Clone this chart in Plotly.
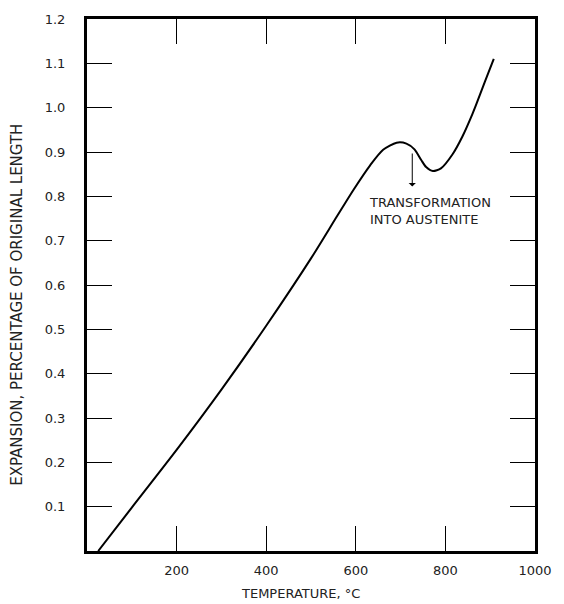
import plotly.graph_objects as go

# Data
temperature = [25, 100, 200, 300, 400, 500, 558, 595, 632, 661, 691, 713, 731, 746, 757, 772, 790, 816, 838, 860, 868, 888, 908]
expansion = [0.0, 0.098, 0.228, 0.364, 0.508, 0.660, 0.755, 0.815, 0.870, 0.905, 0.921, 0.919, 0.906, 0.882, 0.866, 0.857, 0.863, 0.895, 0.935, 0.985, 1.005, 1.058, 1.110]

x_ticks = [200, 400, 600, 800, 1000]
y_ticks = [0.1, 0.2, 0.3, 0.4, 0.5, 0.6, 0.7, 0.8, 0.9, 1.0, 1.1, 1.2]
y_ticktext = ["0.1", "0.2", "0.3", "0.4", "0.5", "0.6", "0.7", "0.8", "0.9", "1.0", "1.1", "1.2"]

FONT = "DejaVu Sans"

fig = go.Figure()
fig.add_trace(go.Scatter(x=temperature, y=expansion, mode="lines",
                         line=dict(color="black", width=2, shape="spline", smoothing=0.7),
                         hoverinfo="skip", showlegend=False))

# Arrow to the transformation dip
fig.add_annotation(x=726, y=0.822, ax=726, ay=0.90, xref="x", yref="y", axref="x", ayref="y",
                   text="", showarrow=True, arrowhead=1, arrowsize=1.2, arrowwidth=1, arrowcolor="black")
fig.add_annotation(x=624, y=0.767, xref="x", yref="y", xanchor="left", yanchor="middle", align="left",
                   text="TRANSFORMATION<br>INTO AUSTENITE", showarrow=False,
                   font=dict(family=FONT, size=13, color="#222"))

# Axis titles
fig.add_annotation(x=-0.156, y=0.463, xref="paper", yref="paper", textangle=-90,
                   xanchor="center", yanchor="middle",
                   text="EXPANSION, PERCENTAGE OF ORIGINAL LENGTH", showarrow=False,
                   font=dict(family=FONT, size=15, color="#222"))
fig.add_annotation(x=0.477, y=-0.080, xref="paper", yref="paper",
                   xanchor="center", yanchor="middle",
                   text="TEMPERATURE, °C", showarrow=False,
                   font=dict(family=FONT, size=13, color="#222"))

axis_common = dict(showline=True, linecolor="black", linewidth=3, mirror="ticks",
                   ticks="inside", ticklen=25, tickwidth=1, tickcolor="black",
                   showgrid=False, zeroline=False,
                   tickfont=dict(family=FONT, size=13, color="#222"))

fig.update_xaxes(range=[0, 1000], tickvals=x_ticks, ticklabelstandoff=5, **axis_common)
fig.update_yaxes(range=[0, 1.2], tickvals=y_ticks, ticktext=y_ticktext, ticklabelstandoff=16, **axis_common)

fig.update_layout(width=564, height=604, margin=dict(l=87, r=24, t=13, b=53),
                  plot_bgcolor="white", paper_bgcolor="white")

fig.write_html("out.html")
